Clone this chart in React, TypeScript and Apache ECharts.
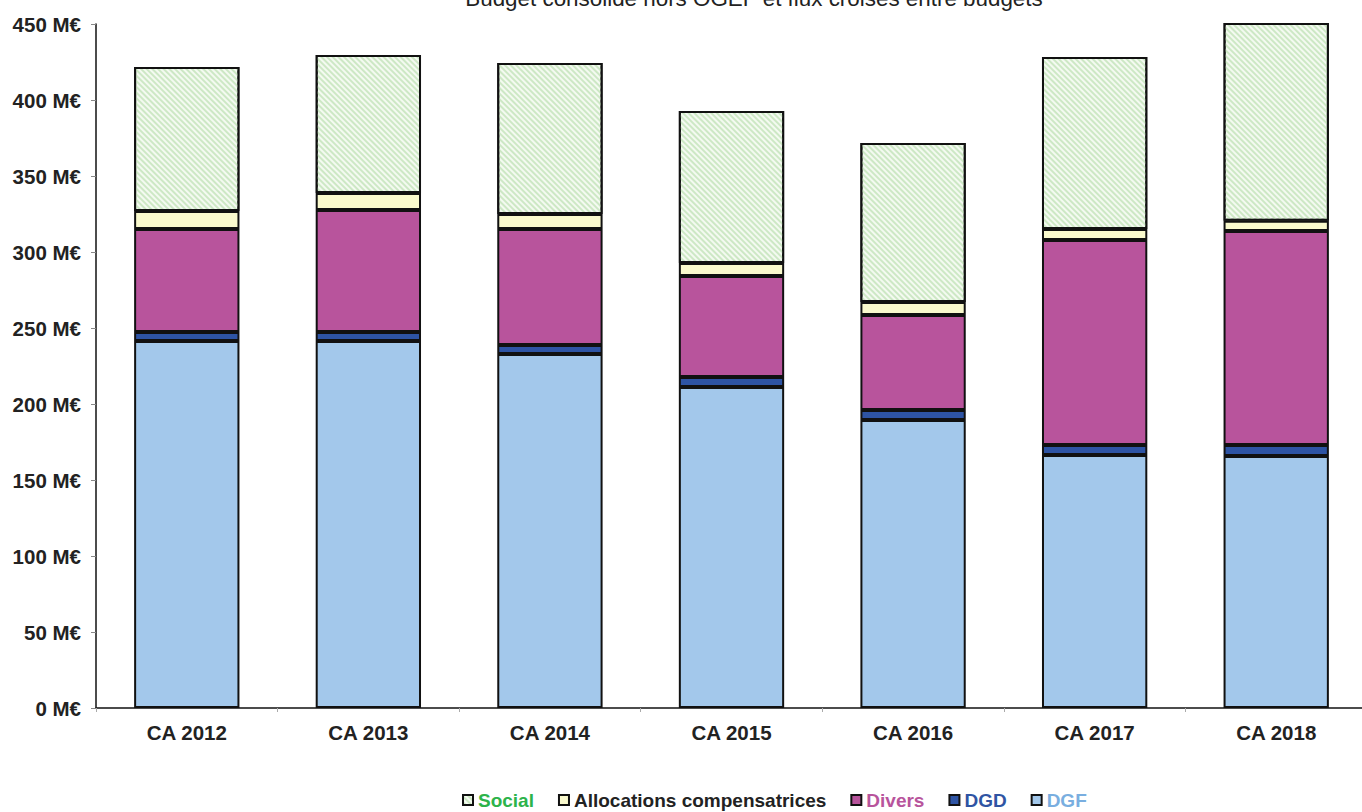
import React, { useEffect, useRef } from "react";
import * as echarts from "echarts";

const categories = ["CA 2012", "CA 2013", "CA 2014", "CA 2015", "CA 2016", "CA 2017", "CA 2018"];
const dgf = [241.4, 241.4, 232.9, 211.2, 189.5, 166.4, 165.8];
const dgd = [6.0, 6.0, 5.9, 6.6, 6.6, 6.6, 7.2];
const divers = [67.7, 80.2, 76.3, 66.4, 62.5, 134.9, 140.8];
const allocations = [11.9, 11.2, 9.9, 8.6, 8.5, 7.2, 6.8];
const social = [94.7, 90.8, 99.3, 100.0, 104.6, 113.2, 140.0];
const yTicks = { min: 0, max: 450, interval: 50 };
const titleText = "Budget consolidé hors OGEF et flux croisés entre budgets";

const FONT = "'Liberation Sans', Arial, sans-serif";

export default function App() {
  const ref = useRef<HTMLDivElement>(null);
  useEffect(() => {
    if (!ref.current) return;
    const chart = echarts.init(ref.current, undefined, { renderer: "svg" });
    const border = { borderColor: "#111", borderWidth: 2 };
    const mk = (name: string, data: number[], color: string, extra: any = {}) => ({
      name,
      type: "bar",
      stack: "total",
      data,
      barCategoryGap: "42%",
      itemStyle: { color, ...border, ...extra },
      emphasis: { disabled: true },
    });
    chart.setOption({
      animation: false,
      graphic: [
        {
          type: "text",
          x: 754,
          y: -13,
          style: {
            text: titleText,
            font: `22.4px ${FONT}`,
            fill: "#222",
            textAlign: "center",
            textVerticalAlign: "top",
          },
        },
      ],
      grid: { left: 96, right: 13, top: 24, bottom: 104, containLabel: false },
      legend: {
        left: 457,
        top: 785,
        icon: "rect",
        itemWidth: 10,
        itemHeight: 10,
        itemGap: 24,
        textStyle: { fontFamily: FONT, fontWeight: "bold", fontSize: 19, lineHeight: 20 },
        data: [
          { name: "Social", textStyle: { color: "#2db34a" } },
          { name: "Allocations compensatrices", textStyle: { color: "#222" } },
          { name: "Divers", textStyle: { color: "#b8549c" } },
          { name: "DGD", textStyle: { color: "#2f54a3" } },
          { name: "DGF", textStyle: { color: "#79aee0" } },
        ],
      },
      xAxis: {
        type: "category",
        data: categories,
        axisLine: { lineStyle: { color: "#111", width: 1.5 } },
        axisTick: { show: true, length: 4, lineStyle: { color: "#aaa" } },
        axisLabel: {
          fontFamily: FONT,
          fontWeight: "bold",
          fontSize: 20.5,
          color: "#222",
          margin: 14,
        },
      },
      yAxis: {
        type: "value",
        min: yTicks.min,
        max: yTicks.max,
        interval: yTicks.interval,
        splitLine: { show: false },
        axisLine: { show: true, lineStyle: { color: "#111", width: 1.5 } },
        axisTick: { show: true, length: 5, lineStyle: { color: "#888" } },
        axisLabel: {
          formatter: "{value} M€",
          fontFamily: FONT,
          fontWeight: "bold",
          fontSize: 20.5,
          color: "#222",
          margin: 15,
        },
      },
      series: [
        mk("DGF", dgf, "#a3c8eb"),
        mk("DGD", dgd, "#2e54a4"),
        mk("Divers", divers, "#b8549c"),
        mk("Allocations compensatrices", allocations, "#fafacd"),
        mk("Social", social, "#f4faf1", {
          decal: {
            symbol: "rect",
            symbolSize: 1,
            color: "#cde8c5",
            dashArrayX: [1, 0],
            dashArrayY: [2, 2],
            rotation: Math.PI / 4,
          },
        }),
      ],
    });
    return () => chart.dispose();
  }, []);
  return (
    <div style={{ position: "fixed", left: 0, top: 0, width: 1362, height: 812, overflow: "hidden", background: "#fff" }}>
      <div ref={ref} style={{ width: 1380, height: 812 }} />
    </div>
  );
}
